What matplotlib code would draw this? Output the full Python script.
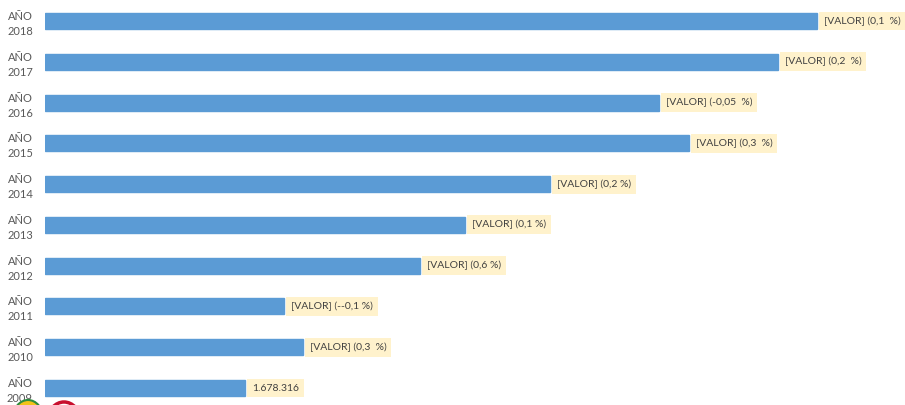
import matplotlib
matplotlib.use("Agg")
import matplotlib.pyplot as plt
from matplotlib.patches import Ellipse

categories = ["AÑO\n2009", "AÑO\n2010", "AÑO\n2011", "AÑO\n2012", "AÑO\n2013",
              "AÑO\n2014", "AÑO\n2015", "AÑO\n2016", "AÑO\n2017", "AÑO\n2018"]
values = [1678316, 1683630, 1681890, 1694340, 1698460,
          1706250, 1718980, 1716230, 1727130, 1730700]
labels = ["1.678.316", "[VALOR] (0,3  %)", "[VALOR] (--0,1 %)", "[VALOR] (0,6 %)",
          "[VALOR] (0,1 %)", "[VALOR] (0,2 %)", "[VALOR] (0,3  %)",
          "[VALOR] (-0,05  %)", "[VALOR] (0,2  %)", "[VALOR] (0,1  %)"]
axis_min = 1660000
axis_max = 1738760

W, H = 905, 405
fig = plt.figure(figsize=(W / 100, H / 100), dpi=100)
fig.patch.set_facecolor("white")

ax_left = 45 / W
ax_top_px = 0.6
ax_bot_px = 408.4
ax = fig.add_axes([ax_left, (H - ax_bot_px) / H, 1 - ax_left, (ax_bot_px - ax_top_px) / H])
ax.set_facecolor("none")

y = list(range(len(categories)))
ax.barh(y, [v - axis_min for v in values], left=axis_min, height=0.39,
        color="#5B9BD5", edgecolor="#5B9BD5")
ax.set_xlim(axis_min, axis_max)
ax.set_ylim(-0.5, len(categories) - 0.5)

ax.set_yticks(y)
ax.set_yticklabels(categories, fontsize=8, color="#595959", ha="center",
                   linespacing=1.45, family="Lato")
ax.tick_params(axis="y", length=0, pad=18)
ax.set_xticks([])
for s in ax.spines.values():
    s.set_visible(False)

for yi, v, lab in zip(y, values, labels):
    ax.annotate(lab, xy=(v, yi), xytext=(5, 0), textcoords="offset points",
                va="center", ha="left", fontsize=7.5, color="#404040",
                family="Lato", annotation_clip=False,
                bbox=dict(boxstyle="square,pad=0.45", fc="#FFF2CC", ec="none"))

# partial logo at the bottom-left
fig.patches.append(Ellipse((28 / W, (H - 418) / H), 30 / W, 36 / H,
                           transform=fig.transFigure, fc="#F2C318", ec="#2E8B3E",
                           lw=1.5, zorder=0))
fig.patches.append(Ellipse((64 / W, (H - 420) / H), 32 / W, 36 / H,
                           transform=fig.transFigure, fc="white", ec="#C8102E",
                           lw=2.5, zorder=0))

fig.savefig("out.png", dpi=100)
